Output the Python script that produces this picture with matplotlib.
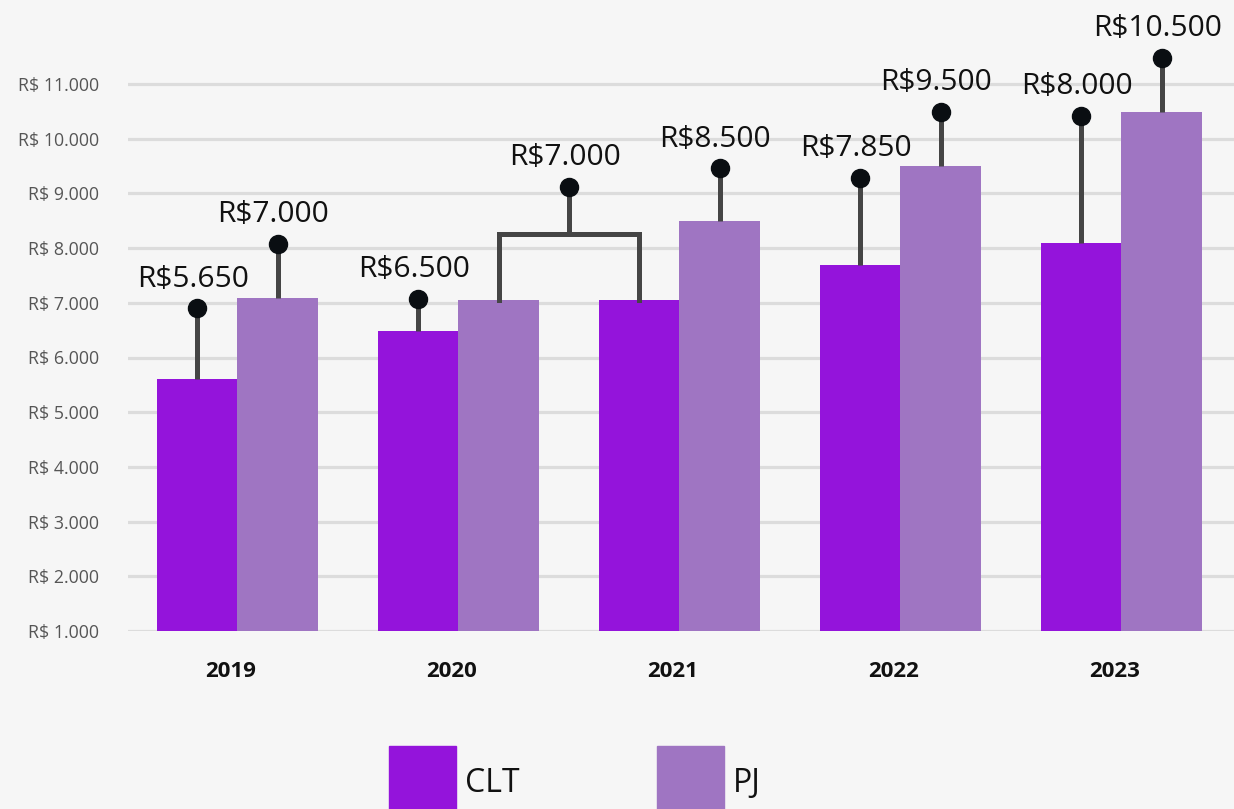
import matplotlib
matplotlib.use("Agg")
import matplotlib.pyplot as plt
from matplotlib.patches import Rectangle
import numpy as np

# ---- data ----
years = ["2019", "2020", "2021", "2022", "2023"]
clt_values = [5600, 6480, 7050, 7690, 8090]
pj_values = [7080, 7060, 8500, 9500, 10490]
clt_labels = ["R$5.650", "R$6.500", None, "R$7.850", "R$8.000"]
pj_labels = ["R$7.000", None, "R$8.500", "R$9.500", "R$10.500"]
bracket_label = "R$7.000"   # shared PJ 2020 / CLT 2021
ytick_values = [1000, 2000, 3000, 4000, 5000, 6000, 7000, 8000, 9000, 10000, 11000]
ytick_labels = ["R$ 1.000", "R$ 2.000", "R$ 3.000", "R$ 4.000", "R$ 5.000", "R$ 6.000",
                "R$ 7.000", "R$ 8.000", "R$ 9.000", "R$ 10.000", "R$ 11.000"]
series_names = ["CLT", "PJ"]

# ---- layout (annotation dot heights, in value units) ----
clt_dot = [6900, 7070, None, 9280, 10420]
pj_dot = [8080, None, 9460, 10490, 11480]
bracket_bar = 8260
bracket_dot = 9120

CLT_COLOR = "#9414DB"
PJ_COLOR = "#9F75C2"
BG = "#f6f6f6"
STEM = "#454545"
DOT = "#0a0e12"
FONT = "Open Sans"

plt.rcParams["font.family"] = [FONT, "DejaVu Sans"]

W, H = 1234, 809
fig = plt.figure(figsize=(W / 100, H / 100), dpi=100)
fig.patch.set_facecolor(BG)

ax = fig.add_axes([128 / W, (H - 631) / H, (W - 128) / W, 631 / H])
ax.set_facecolor("none")
px_per_unit = 221.0
x0 = (128 - 237) / px_per_unit
x1 = (1234 - 237) / px_per_unit
ax.set_xlim(x0, x1)
ax.set_ylim(1000, 1000 + 631 / 54.7 * 1000)

for s in ax.spines.values():
    s.set_visible(False)

ax.set_yticks(ytick_values)
ax.set_yticklabels(ytick_labels, fontsize=12.8, color="#555555")
ax.tick_params(axis="y", length=0, pad=21)
ax.set_xticks([])
ax.yaxis.grid(True, color="#dcdcdc", linewidth=2.3)
ax.set_axisbelow(True)

x = np.arange(len(years))
bw = 80 / px_per_unit
bw_pj = 81 / px_per_unit
ov = 1.0 / px_per_unit
ax.bar(x - bw, np.array(clt_values) - 1000, bottom=1000, width=bw + ov, align="edge",
       color=CLT_COLOR, linewidth=0, zorder=2)
ax.bar(x, np.array(pj_values) - 1000, bottom=1000, width=bw_pj, align="edge",
       color=PJ_COLOR, linewidth=0, zorder=2)
clt_x = x - bw / 2
pj_x = x + bw_pj / 2

def stem(xc, ytop, ydot, label):
    ax.plot([xc, xc], [ytop, ydot], color=STEM, lw=3.6, zorder=3, solid_capstyle="butt")
    ax.plot([xc], [ydot], "o", color=DOT, ms=13, zorder=4)
    ax.annotate(label, (xc, ydot), xytext=(-3, 21), textcoords="offset points",
                ha="center", va="center", fontsize=21.5, color="#111111", zorder=5)

for i in range(len(years)):
    if clt_labels[i] is not None:
        stem(clt_x[i], clt_values[i], clt_dot[i], clt_labels[i])
    if pj_labels[i] is not None:
        stem(pj_x[i], pj_values[i], pj_dot[i], pj_labels[i])

# bracket linking PJ 2020 and CLT 2021
bx_a = pj_x[1]
bx_b = clt_x[2]
ax.plot([bx_a, bx_a, bx_b, bx_b], [pj_values[1], bracket_bar, bracket_bar, clt_values[2]],
        color=STEM, lw=3.6, zorder=3, solid_joinstyle="miter")
bmid = (bx_a + bx_b) / 2
stem(bmid, bracket_bar, bracket_dot, bracket_label)

# year labels
for i, yr in enumerate(years):
    ax.annotate(yr, (x[i] - 0.03, 1000), xytext=(0, -29.5), textcoords="offset points",
                ha="center", va="center", fontsize=16, fontweight="bold", color="#111111",
                annotation_clip=False)

# legend
def legend_item(xpx, color, name):
    fig.add_artist(Rectangle((xpx / W, 0), 67 / W, (H - 746) / H, transform=fig.transFigure,
                             color=color))
    fig.text((xpx + 76) / W, (H - 783) / H, name, ha="left", va="center",
             fontsize=23, color="#111111")

legend_item(389, CLT_COLOR, series_names[0])
legend_item(657, PJ_COLOR, series_names[1])

fig.savefig("out.png", dpi=100, facecolor=BG)
